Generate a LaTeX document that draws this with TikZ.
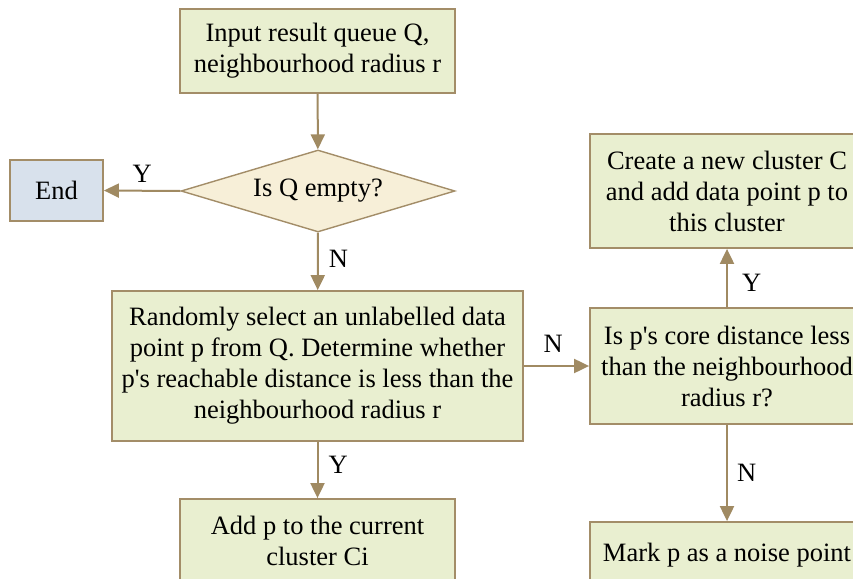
\documentclass[tikz,border=0pt]{standalone}
\usepackage{fontspec}
\setmainfont{Liberation Serif}
\usetikzlibrary{shapes.geometric,arrows.meta}
\definecolor{boxfill}{HTML}{E9EFD0}
\definecolor{boxline}{HTML}{A38D68}
\definecolor{decfill}{HTML}{F7EFD8}
\definecolor{endfill}{HTML}{D8E1EC}
\definecolor{arrowcol}{HTML}{A08A62}
\newcommand{\apos}{\textquotesingle}
\tikzset{
  txt/.style={font=\fontsize{26.5}{31}\selectfont},
  procbox/.style={txt, draw=boxline, fill=boxfill, line width=1.8pt, align=center,
    inner sep=0pt},
  decbox/.style={txt, draw=boxline, fill=decfill, line width=1.4pt, diamond, aspect=3.3,
    inner sep=0pt, minimum width=274pt, minimum height=82pt},
  endbox/.style={txt, draw=boxline, fill=endfill, line width=1.8pt, inner sep=0pt},
  flow/.style={draw=arrowcol, line width=2pt, -{Triangle[width=14pt,length=15pt]}},
  lbl/.style={txt, inner sep=0pt},
}
\begin{document}
\begin{tikzpicture}[x=1pt, y=-1pt]
\useasboundingbox (0,0) rectangle (853,578);
\clip (0,0) rectangle (853,578);
\node[procbox, minimum width=275pt, minimum height=84pt] (input) at (317.5,51)
  {Input result queue Q,\\neighbourhood radius r};
\node[decbox] (empty) at (318,191) {Is Q empty?};
\node[endbox, minimum width=93pt, minimum height=61pt] (end) at (56.5,190.5) {End};
\node[procbox, minimum width=411pt, minimum height=150pt] (select) at (317.5,366)
  {Randomly select an unlabelled data\\point p from Q. Determine whether\\p\apos s reachable distance is less than the\\neighbourhood radius r};
\node[procbox, minimum width=275pt, minimum height=84pt] (add) at (317.5,541)
  {Add p to the current\\cluster Ci};
\node[procbox, minimum width=274pt, minimum height=116pt] (core) at (727,366)
  {Is p\apos s core distance less\\than the neighbourhood\\radius r?};
\node[procbox, minimum width=274pt, minimum height=114pt] (create) at (727,191)
  {Create a new cluster C\\and add data point p to\\this cluster};
\node[procbox, minimum width=274pt, minimum height=66pt] (noise) at (727,555)
  {Mark p as a noise point};

\draw[flow] (input) -- (empty);
\draw[flow] (empty.west) -- (end.east) node[lbl, pos=0.5, above=7pt] {Y};
\draw[flow] (empty) -- (select) node[lbl, pos=0.45, right=10pt] {N};
\draw[flow] (select) -- (add) node[lbl, pos=0.4, right=10pt] {Y};
\draw[flow] (select) -- (core) node[lbl, pos=0.45, above=13pt] {N};
\draw[flow] (core) -- (create) node[lbl, pos=0.42, right=14pt] {Y};
\draw[flow] (core) -- (noise) node[lbl, pos=0.5, right=9pt] {N};
\end{tikzpicture}
\end{document}
